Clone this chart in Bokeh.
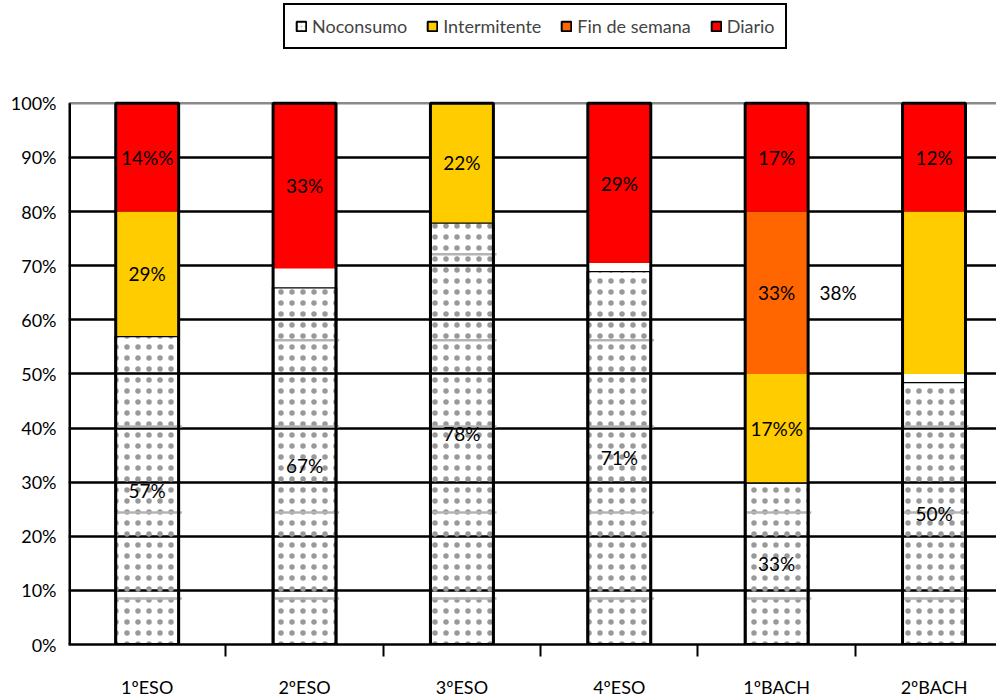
import numpy as np
from bokeh.plotting import figure
from bokeh.models import FixedTicker, Legend, LegendItem, ColumnDataSource, Span
from bokeh.embed import file_html
from bokeh.resources import INLINE
from bokeh.core.properties import value

# ---------------- data ----------------
categories = ["1ºESO", "2ºESO", "3ºESO", "4ºESO", "1ºBACH", "2ºBACH"]
series_names = ["Noconsumo", "Intermitente", "Fin de semana", "Diario"]

no_consumo    = [57, 66, 78, 69, 30, 48.5]
hueco         = [0, 3.5, 0, 1.5, 0, 1.5]      # blank gap visible in some bars
intermitente  = [23, 0, 22, 0, 20, 30]
fin_de_semana = [0, 0, 0, 0, 30, 0]
diario        = [20, 30.5, 0, 29.5, 20, 20]

lab_no_consumo    = ["57%", "67%", "78%", "71%", "33%", "50%"]
lab_intermitente  = ["29%", "", "22%", "", "17%%", ""]
lab_fin_de_semana = ["", "", "", "", "33%", ""]
lab_diario        = ["14%%", "33%", "", "29%", "17%", "12%"]
stray_label_cat = "1ºBACH"
stray_label_txt = "38%"

y_ticks = [0, 10, 20, 30, 40, 50, 60, 70, 80, 90, 100]
y_tick_labels = ["0%", "10%", "20%", "30%", "40%", "50%", "60%", "70%", "80%", "90%", "100%"]

colors = {"Intermitente": "#FFCC00", "Fin de semana": "#FF6600", "Diario": "#FF0000"}
FONT = "Lato"

# ---------------- figure ----------------
# frame spans the full height above the axis; room above 100% holds the legend
H, TOP_FRAME_PX, PLOT_PX = 700, 645, 542
y_max = 100 * TOP_FRAME_PX / PLOT_PX
xs = np.arange(len(categories))
p = figure(width=996, height=H, x_range=(-0.5, 5.397), y_range=(0, y_max),
           output_backend="svg", toolbar_location=None,
           min_border_left=68, min_border_right=0, min_border_top=0, min_border_bottom=55)
p.outline_line_color = None
p.background_fill_color = "white"

# grid
p.xgrid.visible = False
p.ygrid.ticker = FixedTicker(ticks=y_ticks[:-1])
p.ygrid.grid_line_color = "black"
p.ygrid.grid_line_width = 2.5
p.add_layout(Span(location=100, dimension="width", line_color="#8a8a8a",
                  line_width=2.5, level="underlay"))

# stacks
layers = [("Noconsumo", no_consumo), ("hueco", hueco), ("Intermitente", intermitente),
          ("Fin de semana", fin_de_semana), ("Diario", diario)]
bottom = np.zeros(len(categories))
mids = {}
for name, vals in layers:
    vals = np.array(vals, dtype=float)
    top = bottom + vals
    src = ColumnDataSource(dict(x=xs, bottom=bottom, top=top))
    mids[name] = (bottom + top) / 2
    if name == "Noconsumo":
        p.vbar(x="x", bottom="bottom", top="top", width=0.4, source=src,
               fill_color=None, line_color="black", line_width=2.5,
               hatch_pattern="dot", hatch_color="#999999", hatch_scale=11,
               hatch_weight=1)
    elif name == "hueco":
        p.vbar(x="x", bottom="bottom", top="top", width=0.4, source=src,
               fill_color="white", line_color=None)
    else:
        p.vbar(x="x", bottom="bottom", top="top", width=0.4, source=src,
               fill_color=colors[name], line_color=None)
    bottom = top

# faint texture lines inside the dotted segments
sx0, sx1, sy = [], [], []
for i, v in enumerate(no_consumo):
    for lv in np.arange(8.5, v - 1, 15.9):
        sx0.append(i - 0.19); sx1.append(i + 0.22); sy.append(lv)
p.segment(x0=sx0, x1=sx1, y0=sy, y1=sy, line_color="#b4b4b4", line_width=2.5)

# bar outlines
p.vbar(x=xs, bottom=0, top=100, width=0.4, fill_color=None,
       line_color="black", line_width=3)

# value axis line (only from 0% to 100%)
p.segment(x0=[-0.5], y0=[0], x1=[-0.5], y1=[100], line_color="black", line_width=5)

# labels
lx, ly, lt = [], [], []
for name, labs in [("Noconsumo", lab_no_consumo), ("Intermitente", lab_intermitente),
                   ("Fin de semana", lab_fin_de_semana), ("Diario", lab_diario)]:
    for i, t in enumerate(labs):
        if t:
            lx.append(i); ly.append(mids[name][i]); lt.append(t)
si = categories.index(stray_label_cat)
lx.append(si + 0.39); ly.append(mids["Fin de semana"][si]); lt.append(stray_label_txt)
p.text(x=lx, y=ly, text=lt, text_align="center", text_baseline="middle",
       text_font=value(FONT), text_font_size="19px", text_color="black")

# axes
p.yaxis.ticker = FixedTicker(ticks=y_ticks)
p.yaxis.major_label_overrides = {t: l for t, l in zip(y_ticks, y_tick_labels)}
p.yaxis.major_tick_out = 0
p.yaxis.major_tick_in = 0
p.yaxis.minor_tick_line_color = None
p.yaxis.axis_line_color = None
p.yaxis.major_label_standoff = 12
p.yaxis.major_label_text_font = FONT
p.yaxis.major_label_text_font_size = "18px"
p.yaxis.major_label_text_color = "black"

p.xaxis.ticker = FixedTicker(ticks=list(xs), minor_ticks=list(xs[:-1] + 0.5))
p.xaxis.major_label_overrides = {int(i): c for i, c in zip(xs, categories)}
p.xaxis.major_tick_out = 0
p.xaxis.major_tick_in = 0
p.xaxis.minor_tick_out = 12
p.xaxis.minor_tick_in = 0
p.xaxis.minor_tick_line_color = "black"
p.xaxis.minor_tick_line_width = 2
p.xaxis.axis_line_color = "black"
p.xaxis.axis_line_width = 2.5
p.xaxis.major_label_standoff = 19
p.xaxis.major_label_text_font = FONT
p.xaxis.major_label_text_font_size = "18px"
p.xaxis.major_label_text_color = "black"

# legend swatches (placeholder rows with NaN -> nothing drawn on the plot)
swatch = {}
for n in series_names:
    nan_src = ColumnDataSource(dict(x=[np.nan], top=[np.nan], bottom=[np.nan]))
    if n == "Noconsumo":
        swatch[n] = p.vbar(x="x", top="top", bottom="bottom", width=0.4, source=nan_src,
                           fill_color="white", line_color="black", line_width=2,
                           hatch_pattern="dot", hatch_color="#bbbbbb", hatch_scale=4,
                           hatch_weight=0.5)
    else:
        swatch[n] = p.vbar(x="x", top="top", bottom="bottom", width=0.4, source=nan_src,
                           fill_color=colors[n], line_color="black", line_width=2)
items = [LegendItem(label=n, renderers=[swatch[n]]) for n in series_names]
legend = Legend(items=items, orientation="horizontal", location=(215, 595), margin=0,
                padding=10, spacing=19, glyph_width=12, glyph_height=12,
                label_standoff=5, label_height=22,
                label_text_font=FONT, label_text_font_size="18px",
                border_line_color="black", border_line_width=2, border_line_alpha=1,
                background_fill_color="white", background_fill_alpha=1)
p.add_layout(legend, "center")

open("out.html", "w").write(file_html(p, INLINE))
